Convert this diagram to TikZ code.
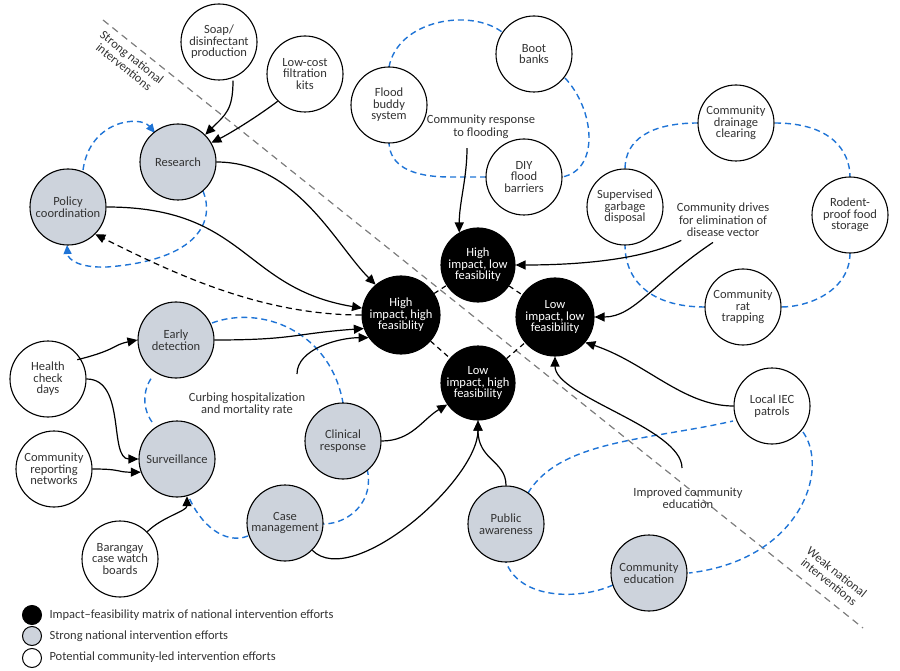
\documentclass[tikz,border=0pt]{standalone}
\usepackage{fontspec}
\setmainfont{Carlito}
\usetikzlibrary{arrows.meta}
\definecolor{natgray}{HTML}{CDD3DC}
\definecolor{loopblue}{HTML}{1F74D6}
\definecolor{txtgray}{HTML}{333333}
\tikzset{
  bubble/.style={circle,draw,line width=1.1pt,minimum size=76pt,inner sep=0pt,align=center,
    font=\fontsize{12.5}{11.5}\selectfont,text=txtgray},
  matrixnode/.style={bubble,fill=black,text=white,minimum size=78pt},
  natnode/.style={bubble,fill=natgray},
  comnode/.style={bubble,fill=white},
  lbl/.style={align=center,font=\fontsize{12.5}{12.5}\selectfont,text=txtgray},
  arr/.style={line width=1.2pt,-{Triangle[length=10pt,width=9pt]}},
  darr/.style={arr,dashed,dash pattern=on 6pt off 4pt},
  bloop/.style={loopblue,line width=1.4pt,dash pattern=on 6pt off 4pt},
  divider/.style={gray,line width=1.2pt,dash pattern=on 7pt off 5pt}
}
\begin{document}
\begin{tikzpicture}[x=1pt,y=-1pt]
    \useasboundingbox (0,0) rectangle (900,671);
    % divider between strong and weak national interventions
    \draw[divider] (103,20) -- (863,628);
    \node[lbl,rotate=-38.7] (strong) at (128,62) {Strong national\\interventions};
    \node[lbl,rotate=-38.7] (weak) at (833,577) {Weak national\\interventions};
    % blue loops
    \draw[bloop] (389,67) .. controls (398,20) and (470,8) .. (502,32);
    \draw[bloop] (565,78) .. controls (595,110) and (600,170) .. (562,177);
    \draw[bloop] (486,177) -- (450,177) .. controls (410,177) and (390,165) .. (389,143);
    \draw[bloop] (698,123) .. controls (650,123) and (625,140) .. (625,169);
    \draw[bloop] (775,123) .. controls (830,123) and (850,150) .. (850,177);
    \draw[bloop] (850,253) .. controls (850,290) and (810,307) .. (781,307);
    \draw[bloop] (705,307) .. controls (650,307) and (625,280) .. (625,245);
    \draw[bloop] (212,323) .. controls (260,305) and (330,330) .. (343,403);
    \draw[bloop] (367,469) .. controls (375,500) and (350,524) .. (323,524);
    \draw[bloop] (248,536) .. controls (225,545) and (200,525) .. (188,495);
    \draw[bloop] (152,422) .. controls (140,405) and (145,385) .. (153,376);
    \draw[bloop] (528,493) .. controls (560,440) and (650,440) .. (733,421);
    \draw[bloop] (803,432) .. controls (830,470) and (800,560) .. (689,573);
    \draw[bloop] (613,585) .. controls (580,600) and (520,600) .. (506,562);
    \draw[bloop,-{Triangle[length=9pt,width=8pt]}] (83,170) .. controls (90,120) and (140,115) .. (155,133);
    \draw[bloop,-{Triangle[length=9pt,width=8pt]}] (203,191) .. controls (215,220) and (200,260) .. (107,267) .. controls (80,268) and (68,260) .. (67,245);
    % impact-feasibility matrix
    \node[matrixnode] (hh) at (401,315) {High\\impact, high\\feasiblity};
    \node[matrixnode,minimum size=74pt] (hl) at (478,265) {High\\impact, low\\feasiblity};
    \node[matrixnode] (ll) at (555,317) {Low\\impact, low\\feasibility};
    \node[matrixnode,minimum size=74pt] (lh) at (478,383) {Low\\impact, high\\feasibility};
    \draw[line width=1.2pt,dash pattern=on 5pt off 4pt] (hh) -- (hl) (hl) -- (ll) (hh) -- (lh) (lh) -- (ll);
    % strong national intervention efforts
    \node[natnode] (research) at (178,162) {Research};
    \node[natnode] (policy) at (68,207) {Policy\\coordination};
    \node[natnode] (early) at (176,340) {Early\\detection};
    \node[natnode] (surv) at (177,459) {Surveillance};
    \node[natnode] (clinical) at (343,441) {Clinical\\response};
    \node[natnode] (casemgmt) at (285,523) {Case\\management};
    \node[natnode] (public) at (506,524) {Public\\awareness};
    \node[natnode] (comedu) at (649,573) {Community\\education};
    % community-led intervention efforts
    \node[comnode] (soap) at (219,42) {Soap/\\disinfectant\\production};
    \node[comnode] (filter) at (305,74) {Low-cost\\filtration\\kits};
    \node[comnode] (buddy) at (389,105) {Flood\\buddy\\system};
    \node[comnode] (boot) at (534,54) {Boot\\banks};
    \node[comnode] (diy) at (524,177) {DIY\\flood\\barriers};
    \node[comnode] (drain) at (736,123) {Community\\drainage\\clearing};
    \node[comnode] (garbage) at (625,207) {Supervised\\garbage\\disposal};
    \node[comnode] (rodent) at (850,215) {Rodent-\\proof food\\storage};
    \node[comnode] (rat) at (743,307) {Community\\rat\\trapping};
    \node[comnode] (iec) at (772,406) {Local IEC\\patrols};
    \node[comnode] (health) at (48,379) {Health\\check\\days};
    \node[comnode] (report) at (54,469) {Community\\reporting\\networks};
    \node[comnode] (barangay) at (120,559) {Barangay\\case watch\\boards};
    % group labels
    \node[lbl] (flooding) at (481,127) {Community response\\to flooding};
    \node[lbl] (vector) at (723,220) {Community drives\\for elimination of\\disease vector};
    \node[lbl] (curbing) at (247,404) {Curbing hospitalization\\and mortality rate};
    \node[lbl] (improved) at (688,498) {Improved community\\education};
    \coordinate (curbstart) at (297,374);
    \coordinate (impstart) at (682,468);
    % connectors
    \draw[arr] (soap.south) ++(14,0) .. controls +(0,30) and +(20,-20) .. (research.north east);
    \draw[arr] (filter.south west) .. controls +(-20,15) and +(20,-10) .. (research.30);
    \draw[arr] (research.east) .. controls +(80,0) and +(-40,-40) .. (hh.130);
    \draw[arr] (policy.east) .. controls +(140,0) and +(-120,-20) .. (hh.170);
    \draw[darr] (hh.west) .. controls +(-100,0) and +(80,40) .. (policy.south east);
    \draw[arr] (early.east) .. controls +(80,0) and +(-70,5) .. (hh.200);
    \draw[arr] (curbstart) .. controls +(0,-25) and +(-30,0) .. (hh.215);
    \draw[arr] (clinical.east) .. controls +(30,0) and +(-25,15) .. (lh.215);
    \draw[arr] (casemgmt.south east) .. controls +(40,40) and +(0,60) .. (lh.south);
    \draw[arr] (public.north) .. controls +(0,-25) and +(0,40) .. (lh.south);
    \draw[arr] (flooding.south) ++(-14,6) .. controls +(0,30) and +(0,-30) .. (hl.120);
    \draw[arr] (vector.south west) ++(8,0) .. controls +(-40,20) and +(60,0) .. (hl.east);
    \draw[arr] (vector.south) ++(-10,2) .. controls +(-60,40) and +(40,0) .. (ll.east);
    \draw[arr] (iec.west) .. controls +(-50,0) and +(60,20) .. (ll.-40);
    \draw[arr] (impstart) .. controls +(0,-40) and +(0,40) .. (ll.south);
    \draw[arr] (health.north east) ++(2,8) .. controls +(40,-10) and +(-25,5) .. (early.west);
    \draw[arr] (health.east) .. controls +(40,0) and +(-30,0) .. (surv.west);
    \draw[arr] (report.east) .. controls +(30,0) and +(-25,0) .. (surv.200);
    \draw[arr] (barangay.north east) .. controls +(15,-15) and +(0,15) .. (surv.-75);
    % legend
    \node[circle,draw,line width=1pt,fill=black,minimum size=19pt,inner sep=0pt] (keyblack) at (32,615) {};
    \node[circle,draw,line width=1pt,fill=natgray,minimum size=19pt,inner sep=0pt] (keygray) at (32,636) {};
    \node[circle,draw,line width=1pt,fill=white,minimum size=19pt,inner sep=0pt] (keywhite) at (32,658) {};
    \node[lbl,anchor=west] (keyblacktext) at (46,615) {Impact--feasibility matrix of national intervention efforts};
    \node[lbl,anchor=west] (keygraytext) at (46,636) {Strong national intervention efforts};
    \node[lbl,anchor=west] (keywhitetext) at (46,657) {Potential community-led intervention efforts};
\end{tikzpicture}
\end{document}
